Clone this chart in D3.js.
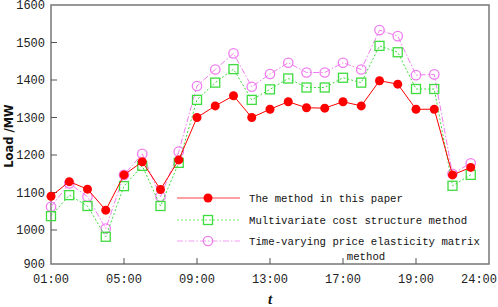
<!DOCTYPE html>
<html>
<head>
<meta charset="utf-8">
<script src="https://cdn.jsdelivr.net/npm/d3@7"></script>
<style>
    body { margin: 0; background: #fff; }
    svg { display: block; }
</style>
</head>
<body>
<div id="chart"></div>
<script>

//
// DATA
//

const hours = d3.range(0, 24);
const tickHours = [0, 4, 8, 12, 16, 20, 24];
const tickLabels = ['01:00', '05:00', '09:00', '13:00', '17:00', '19:00', '24:00'];
const yTicks = [900, 1000, 1100, 1200, 1300, 1400, 1500, 1600];

const paperMethod = [
    1090, 1129, 1109, 1053, 1147, 1182, 1108, 1187,
    1300, 1331, 1358, 1300, 1322, 1342, 1326, 1325,
    1342, 1331, 1398, 1389, 1322, 1322, 1147, 1167
];
const costStructure = [
    1037, 1093, 1064, 982, 1117, 1171, 1064, 1179,
    1347, 1393, 1429, 1347, 1375, 1404, 1380, 1380,
    1406, 1393, 1491, 1474, 1376, 1376, 1118, 1147
];
const elasticityMatrix = [
    1062, 1124, 1089, 1004, 1147, 1203, 1089, 1209,
    1384, 1428, 1471, 1382, 1416, 1446, 1420, 1420,
    1446, 1428, 1533, 1517, 1413, 1415, 1150, 1178
];

const seriesNames = [
    'The method in this paper',
    'Multivariate cost structure method',
    'Time-varying price elasticity matrix'
];

//
// CHART
//

const width = 498;
const height = 307;
const plot = {left: 51, right: 489, top: 5, bottom: 264};

const svg = d3.select('#chart')
    .append('svg')
        .attr('width', width)
        .attr('height', height);

// scales
const x = d3.scaleLinear()
    .domain([0, 24])
    .range([plot.left, plot.right]);
const y = d3.scaleLinear()
    .domain([900, 1600])
    .range([plot.bottom + 3.5, plot.top]);

const monoFont = '"Liberation Mono", "DejaVu Sans Mono", monospace';

// frame
svg.append('rect')
    .attr('x', plot.left)
    .attr('y', plot.top)
    .attr('width', plot.right - plot.left)
    .attr('height', plot.bottom - plot.top)
    .attr('fill', 'none')
    .attr('stroke', '#777')
    .attr('stroke-width', 1.5);

// y ticks (inward)
const yAxis = svg.append('g');
yTicks.forEach(t => {
    const ty = t === 900 ? plot.bottom : y(t);
    if (t > 900 && t < 1600) {
        yAxis.append('line')
            .attr('x1', plot.left).attr('x2', plot.left + 6)
            .attr('y1', ty).attr('y2', ty)
            .attr('stroke', '#555')
            .attr('stroke-width', 1);
    }
    yAxis.append('text')
        .attr('x', plot.left - 6)
        .attr('y', ty)
        .attr('dy', '0.35em')
        .attr('text-anchor', 'end')
        .attr('font-family', monoFont)
        .attr('font-size', 12)
        .attr('fill', '#222')
        .text(t);
});

// x ticks (inward)
const xAxis = svg.append('g');
tickHours.forEach((h, i) => {
    const last = i === tickHours.length - 1;
    if (i > 0 && !last) {
        xAxis.append('line')
            .attr('x1', x(h)).attr('x2', x(h))
            .attr('y1', plot.bottom).attr('y2', plot.bottom - 6)
            .attr('stroke', '#555')
            .attr('stroke-width', 1);
    }
    // last label sits against the right edge
    xAxis.append('text')
        .attr('x', last ? width - 1 : x(h))
        .attr('y', 279)
        .attr('dy', '0.35em')
        .attr('text-anchor', last ? 'end' : 'middle')
        .attr('font-family', monoFont)
        .attr('font-size', 12)
        .attr('fill', '#222')
        .text(tickLabels[i]);
});

// axis titles
svg.append('text')
    .attr('transform', 'translate(13,136) rotate(-90)')
    .attr('text-anchor', 'middle')
    .attr('font-family', '"DejaVu Sans", sans-serif')
    .attr('font-weight', 'bold')
    .attr('font-size', 11.5)
    .attr('fill', '#111')
    .text('Load /MW');

svg.append('text')
    .attr('x', 270)
    .attr('y', 304)
    .attr('text-anchor', 'middle')
    .attr('font-family', '"Liberation Serif", serif')
    .attr('font-style', 'italic')
    .attr('font-weight', 'bold')
    .attr('font-size', 15)
    .attr('fill', '#111')
    .text('t');

// series styles
const series = [
    {values: paperMethod, color: '#ff0000', dash: null, marker: 'dot'},
    {values: costStructure, color: '#3fdc3f', dash: '2,2', marker: 'square'},
    {values: elasticityMatrix, color: '#f07cf0', dash: '6,2,1.5,2', marker: 'circle'}
];

const line = d3.line()
    .x((d, i) => x(hours[i]))
    .y(d => y(d));

function drawMarker(g, type, color, cx, cy) {
    if (type === 'dot') {
        g.append('circle')
            .attr('cx', cx).attr('cy', cy).attr('r', 4.5)
            .attr('fill', color);
    } else if (type === 'square') {
        g.append('rect')
            .attr('x', cx - 4.5).attr('y', cy - 4.5)
            .attr('width', 9).attr('height', 9)
            .attr('fill', 'none')
            .attr('stroke', color)
            .attr('stroke-width', 1.3);
    } else {
        g.append('circle')
            .attr('cx', cx).attr('cy', cy).attr('r', 4.7)
            .attr('fill', 'none')
            .attr('stroke', color)
            .attr('stroke-width', 1.3);
    }
}

// lines and markers, drawn back to front
series.slice().reverse().forEach(s => {
    const g = svg.append('g');
    g.append('path')
        .datum(s.values)
            .attr('fill', 'none')
            .attr('stroke', s.color)
            .attr('stroke-width', 1)
            .attr('stroke-dasharray', s.dash)
            .attr('d', line);
    s.values.forEach((v, i) => drawMarker(g, s.marker, s.color, x(hours[i]), y(v)));
});

// legend
const legend = svg.append('g');
const legendRows = [198, 220, 241];
series.forEach((s, i) => {
    const ly = legendRows[i];
    legend.append('line')
        .attr('x1', 177).attr('x2', 240)
        .attr('y1', ly).attr('y2', ly)
        .attr('stroke', s.color)
        .attr('stroke-opacity', 0.75)
        .attr('stroke-width', 1)
        .attr('stroke-dasharray', s.dash);
    drawMarker(legend, s.marker, s.color, 208, ly);
    legend.append('text')
        .attr('x', 249)
        .attr('y', ly)
        .attr('dy', '0.35em')
        .attr('font-family', monoFont)
        .attr('font-size', 10.7)
        .attr('fill', '#111')
        .text(seriesNames[i]);
});
legend.append('text')
    .attr('x', 366)
    .attr('y', 256)
    .attr('dy', '0.35em')
    .attr('text-anchor', 'middle')
    .attr('font-family', monoFont)
    .attr('font-size', 10.7)
    .attr('fill', '#111')
    .text('method');

</script>
</body>
</html>
